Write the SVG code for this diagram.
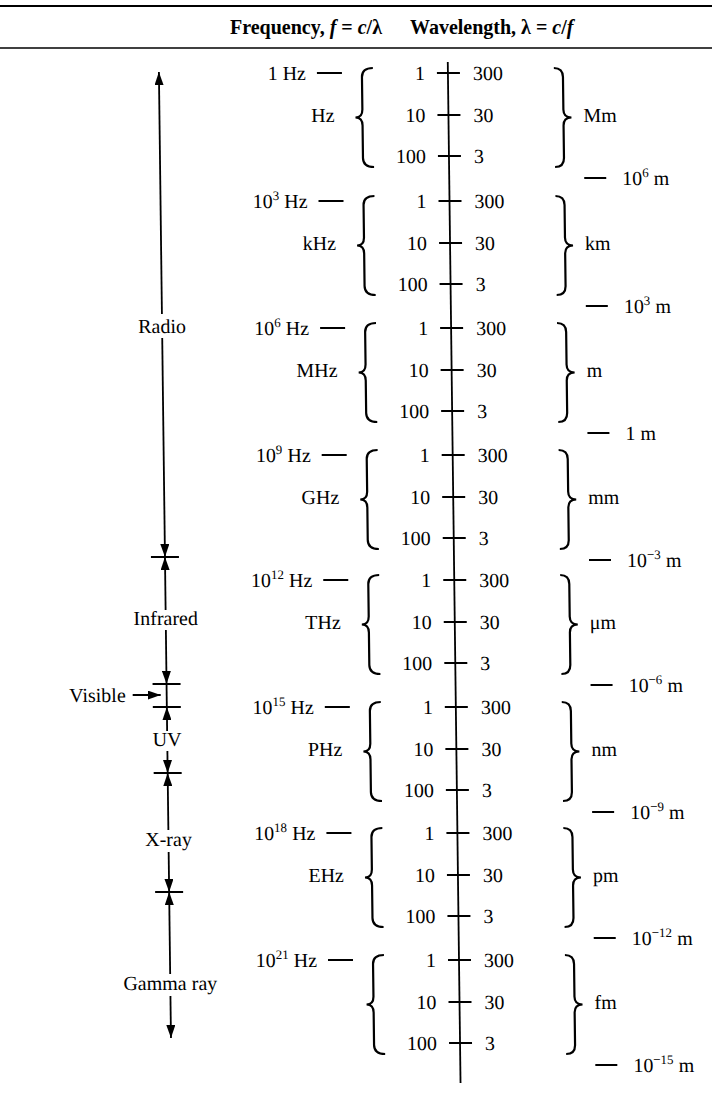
<svg xmlns="http://www.w3.org/2000/svg" xmlns:xlink="http://www.w3.org/1999/xlink" width="712" height="1098" viewBox="0 0 712 1098">
<style>
.t{font-family:"Liberation Serif","Times New Roman",serif;font-size:20px;fill:#000}
.b{font-weight:bold}
.i{font-style:italic}
.s{font-size:13px}
.e{text-anchor:end}
.m{text-anchor:middle}
.ln{stroke:#000;stroke-width:1.8;fill:none}
.br{stroke:#000;stroke-width:2.2;fill:none}
.ar{stroke:#000;stroke-width:1.8;fill:none;marker-end:url(#ah)}
</style>
<defs>
<marker id="ah" markerUnits="userSpaceOnUse" markerWidth="13" markerHeight="9" refX="13" refY="4.5" orient="auto"><path d="M0,0 L13,4.5 L0,9 z" fill="#000"/></marker>
<path id="lb" d="M372,-5 Q361,-5 361,4 L361,36.5 Q361,44.5 354,44.5 Q361,44.5 361,52.5 L361,85 Q361,94 372,94"/>
<path id="rb" d="M553,-5 Q562,-5 562,4 L562,36.5 Q562,44.5 570,44.5 Q562,44.5 562,52.5 L562,85 Q562,94 553,94"/>
<g id="ticks"><line x1="436" y1="0" x2="459" y2="0"/><line x1="436" y1="42" x2="459" y2="42"/><line x1="436" y1="83" x2="459" y2="83"/></g>
</defs>
<g id="header">
<line class="ln" x1="0" y1="6" x2="712" y2="6" style="stroke-width:2"/>
<line class="ln" x1="0" y1="48" x2="712" y2="48" style="stroke-width:1.6"/>
<text class="t b" x="230" y="34">Frequency, <tspan class="i">f</tspan> = <tspan class="i">c</tspan>/λ</text>
<text class="t b" x="410" y="34">Wavelength, λ = <tspan class="i">c</tspan>/<tspan class="i">f</tspan></text>
</g>
<g transform="skewX(0.716)">
<g id="connectors">
<line id="axis" class="ln" x1="447" y1="62" x2="447" y2="1083"/>
<line class="ar" x1="158" y1="314" x2="158" y2="72"/>
<line class="ar" x1="158" y1="338" x2="158" y2="557"/>
<line class="ar" x1="158" y1="610" x2="158" y2="557"/>
<line class="ar" x1="158" y1="630" x2="158" y2="684"/>
<line class="ln" x1="158" y1="684" x2="158" y2="707"/>
<line class="ar" x1="158" y1="731" x2="158" y2="707"/>
<line class="ar" x1="158" y1="751" x2="158" y2="773"/>
<line class="ar" x1="158" y1="830" x2="158" y2="773"/>
<line class="ar" x1="158" y1="852" x2="158" y2="892"/>
<line class="ar" x1="158" y1="974" x2="158" y2="892"/>
<line class="ar" x1="158" y1="996" x2="158" y2="1038"/>
<line class="ar" x1="124" y1="695" x2="152" y2="695"/>
<line class="ln" x1="144" y1="557" x2="172" y2="557"/>
<line class="ln" x1="144" y1="684" x2="172" y2="684"/>
<line class="ln" x1="144" y1="707" x2="172" y2="707"/>
<line class="ln" x1="144" y1="773" x2="172" y2="773"/>
<line class="ln" x1="144" y1="892" x2="172" y2="892"/>
</g>
<g id="band-radio"><text class="t m" x="158" y="333">Radio</text></g>
<g id="band-infrared"><text class="t m" x="158" y="625">Infrared</text></g>
<g id="band-visible"><text class="t e" x="117" y="702">Visible</text></g>
<g id="band-uv"><text class="t m" x="158" y="746">UV</text></g>
<g id="band-xray"><text class="t m" x="158" y="846">X-ray</text></g>
<g id="band-gamma"><text class="t m" x="158" y="990">Gamma ray</text></g>

<g id="decade-hz" transform="translate(0,73)">
<text class="t e" x="305" y="7">1 Hz</text><line class="ln" x1="316" y1="0" x2="341" y2="0"/>
<text class="t e" x="333" y="49">Hz</text>
<use href="#lb" class="br"/><use href="#rb" class="br"/><use href="#ticks" class="ln"/>
<text class="t e" x="424" y="7">1</text><text class="t e" x="424" y="49">10</text><text class="t e" x="424" y="90">100</text>
<text class="t" x="472" y="7">300</text><text class="t" x="472" y="49">30</text><text class="t" x="472" y="90">3</text>
<text class="t" x="582" y="49">Mm</text>
<line class="ln" x1="582" y1="105" x2="604" y2="105"/><text class="t" x="620" y="112">10<tspan class="s" dy="-8">6</tspan><tspan dy="8"> m</tspan></text>
</g>

<g id="decade-khz" transform="translate(0,201)">
<text class="t e" x="305" y="7">10<tspan class="s" dy="-8">3</tspan><tspan dy="8"> Hz</tspan></text><line class="ln" x1="316" y1="0" x2="341" y2="0"/>
<text class="t e" x="333" y="49">kHz</text>
<use href="#lb" class="br"/><use href="#rb" class="br"/><use href="#ticks" class="ln"/>
<text class="t e" x="424" y="7">1</text><text class="t e" x="424" y="49">10</text><text class="t e" x="424" y="90">100</text>
<text class="t" x="472" y="7">300</text><text class="t" x="472" y="49">30</text><text class="t" x="472" y="90">3</text>
<text class="t" x="582" y="49">km</text>
<line class="ln" x1="582" y1="105" x2="604" y2="105"/><text class="t" x="620" y="112">10<tspan class="s" dy="-8">3</tspan><tspan dy="8"> m</tspan></text>
</g>

<g id="decade-mhz" transform="translate(0,328)">
<text class="t e" x="305" y="7">10<tspan class="s" dy="-8">6</tspan><tspan dy="8"> Hz</tspan></text><line class="ln" x1="316" y1="0" x2="341" y2="0"/>
<text class="t e" x="333" y="49">MHz</text>
<use href="#lb" class="br"/><use href="#rb" class="br"/><use href="#ticks" class="ln"/>
<text class="t e" x="424" y="7">1</text><text class="t e" x="424" y="49">10</text><text class="t e" x="424" y="90">100</text>
<text class="t" x="472" y="7">300</text><text class="t" x="472" y="49">30</text><text class="t" x="472" y="90">3</text>
<text class="t" x="582" y="49">m</text>
<line class="ln" x1="582" y1="105" x2="604" y2="105"/><text class="t" x="620" y="112">1 m</text>
</g>

<g id="decade-ghz" transform="translate(0,455)">
<text class="t e" x="305" y="7">10<tspan class="s" dy="-8">9</tspan><tspan dy="8"> Hz</tspan></text><line class="ln" x1="316" y1="0" x2="341" y2="0"/>
<text class="t e" x="333" y="49">GHz</text>
<use href="#lb" class="br"/><use href="#rb" class="br"/><use href="#ticks" class="ln"/>
<text class="t e" x="424" y="7">1</text><text class="t e" x="424" y="49">10</text><text class="t e" x="424" y="90">100</text>
<text class="t" x="472" y="7">300</text><text class="t" x="472" y="49">30</text><text class="t" x="472" y="90">3</text>
<text class="t" x="582" y="49">mm</text>
<line class="ln" x1="582" y1="105" x2="604" y2="105"/><text class="t" x="620" y="112">10<tspan class="s" dy="-8">−3</tspan><tspan dy="8"> m</tspan></text>
</g>

<g id="decade-thz" transform="translate(0,580)">
<text class="t e" x="305" y="7">10<tspan class="s" dy="-8">12</tspan><tspan dy="8"> Hz</tspan></text><line class="ln" x1="316" y1="0" x2="341" y2="0"/>
<text class="t e" x="333" y="49">THz</text>
<use href="#lb" class="br"/><use href="#rb" class="br"/><use href="#ticks" class="ln"/>
<text class="t e" x="424" y="7">1</text><text class="t e" x="424" y="49">10</text><text class="t e" x="424" y="90">100</text>
<text class="t" x="472" y="7">300</text><text class="t" x="472" y="49">30</text><text class="t" x="472" y="90">3</text>
<text class="t" x="582" y="49">μm</text>
<line class="ln" x1="582" y1="105" x2="604" y2="105"/><text class="t" x="620" y="112">10<tspan class="s" dy="-8">−6</tspan><tspan dy="8"> m</tspan></text>
</g>

<g id="decade-phz" transform="translate(0,707)">
<text class="t e" x="305" y="7">10<tspan class="s" dy="-8">15</tspan><tspan dy="8"> Hz</tspan></text><line class="ln" x1="316" y1="0" x2="341" y2="0"/>
<text class="t e" x="333" y="49">PHz</text>
<use href="#lb" class="br"/><use href="#rb" class="br"/><use href="#ticks" class="ln"/>
<text class="t e" x="424" y="7">1</text><text class="t e" x="424" y="49">10</text><text class="t e" x="424" y="90">100</text>
<text class="t" x="472" y="7">300</text><text class="t" x="472" y="49">30</text><text class="t" x="472" y="90">3</text>
<text class="t" x="582" y="49">nm</text>
<line class="ln" x1="582" y1="105" x2="604" y2="105"/><text class="t" x="620" y="112">10<tspan class="s" dy="-8">−9</tspan><tspan dy="8"> m</tspan></text>
</g>

<g id="decade-ehz" transform="translate(0,833)">
<text class="t e" x="305" y="7">10<tspan class="s" dy="-8">18</tspan><tspan dy="8"> Hz</tspan></text><line class="ln" x1="316" y1="0" x2="341" y2="0"/>
<text class="t e" x="333" y="49">EHz</text>
<use href="#lb" class="br"/><use href="#rb" class="br"/><use href="#ticks" class="ln"/>
<text class="t e" x="424" y="7">1</text><text class="t e" x="424" y="49">10</text><text class="t e" x="424" y="90">100</text>
<text class="t" x="472" y="7">300</text><text class="t" x="472" y="49">30</text><text class="t" x="472" y="90">3</text>
<text class="t" x="582" y="49">pm</text>
<line class="ln" x1="582" y1="105" x2="604" y2="105"/><text class="t" x="620" y="112">10<tspan class="s" dy="-8">−12</tspan><tspan dy="8"> m</tspan></text>
</g>

<g id="decade-zhz" transform="translate(0,960)">
<text class="t e" x="305" y="7">10<tspan class="s" dy="-8">21</tspan><tspan dy="8"> Hz</tspan></text><line class="ln" x1="316" y1="0" x2="341" y2="0"/>
<use href="#lb" class="br"/><use href="#rb" class="br"/><use href="#ticks" class="ln"/>
<text class="t e" x="424" y="7">1</text><text class="t e" x="424" y="49">10</text><text class="t e" x="424" y="90">100</text>
<text class="t" x="472" y="7">300</text><text class="t" x="472" y="49">30</text><text class="t" x="472" y="90">3</text>
<text class="t" x="582" y="49">fm</text>
<line class="ln" x1="582" y1="105" x2="604" y2="105"/><text class="t" x="620" y="112">10<tspan class="s" dy="-8">−15</tspan><tspan dy="8"> m</tspan></text>
</g>
</g>
</svg>
